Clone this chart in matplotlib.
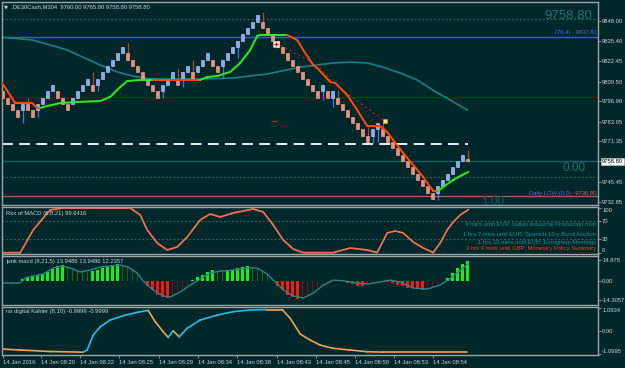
import matplotlib.pyplot as plt
from matplotlib import font_manager

# ---------------- data ----------------
# renko-like candles, one per bar index 0..93
opens = [9803.2, 9799.2, 9795.2, 9791.1, 9791.1, 9795.2, 9791.1, 9791.1, 9795.2, 9799.2,
         9803.2, 9803.2, 9799.2, 9795.2, 9795.2, 9799.2, 9803.2, 9807.3, 9807.3, 9807.3,
         9811.3, 9815.3, 9819.4, 9823.4, 9827.4, 9827.4, 9823.4, 9819.4, 9815.3, 9811.3,
         9807.3, 9803.2, 9803.2, 9807.3, 9811.3, 9811.3, 9811.3, 9815.3, 9815.3, 9815.3,
         9819.4, 9823.4, 9823.4, 9819.4, 9819.4, 9823.4, 9827.4, 9831.4, 9835.5, 9839.5,
         9843.5, 9847.6, 9847.6, 9843.5, 9839.5, 9835.5, 9831.4, 9827.4, 9823.4, 9819.4,
         9815.3, 9811.3, 9807.3, 9803.2, 9803.2, 9803.2, 9799.2, 9799.2, 9795.2, 9791.1,
         9787.1, 9783.1, 9779.1, 9775.0, 9775.0, 9779.1, 9779.1, 9775.0, 9771.0, 9767.0,
         9762.9, 9758.9, 9754.9, 9750.8, 9746.8, 9742.8, 9738.7, 9738.7, 9742.8, 9746.8,
         9750.8, 9754.9, 9758.9, 9760.0]
closes = [9799.2, 9795.2, 9791.1, 9787.1, 9795.2, 9791.1, 9787.1, 9795.2, 9799.2, 9803.2,
          9807.3, 9799.2, 9795.2, 9791.1, 9799.2, 9803.2, 9807.3, 9811.3, 9803.2, 9811.3,
          9815.3, 9819.4, 9823.4, 9827.4, 9831.4, 9823.4, 9819.4, 9815.3, 9811.3, 9807.3,
          9803.2, 9799.2, 9807.3, 9811.3, 9815.3, 9807.3, 9815.3, 9819.4, 9811.3, 9819.4,
          9823.4, 9827.4, 9819.4, 9815.3, 9823.4, 9827.4, 9831.4, 9835.5, 9839.5, 9843.5,
          9847.6, 9851.6, 9843.5, 9839.5, 9835.5, 9831.4, 9827.4, 9823.4, 9819.4, 9815.3,
          9811.3, 9807.3, 9803.2, 9799.2, 9807.3, 9799.2, 9803.2, 9795.2, 9791.1, 9787.1,
          9783.1, 9779.1, 9775.0, 9771.0, 9779.1, 9783.1, 9775.0, 9771.0, 9767.0, 9762.9,
          9758.9, 9754.9, 9750.8, 9746.8, 9742.8, 9738.7, 9734.7, 9742.8, 9746.8, 9750.8,
          9754.9, 9758.9, 9762.9, 9758.8]
wick_high = {5: 9799.2, 18: 9815.3, 25: 9834.0, 35: 9818.1, 38: 9823.2, 52: 9853.7,
             67: 9804.1, 73: 9780.6, 76: 9785.0, 93: 9765.8}
wick_low = {4: 9783.1, 7: 9787.1, 19: 9803.2, 32: 9799.2, 36: 9806.0, 44: 9811.7,
            47: 9824.5, 64: 9797.7, 66: 9793.3, 74: 9770.4, 75: 9771.0, 87: 9734.1}

# slow moving average (teal)
ma_x = [-0.5, 6, 12.9, 19.5, 22.9, 26, 29.5, 39.5, 46, 52.9, 59.5, 66, 69.5, 72.9,
        76, 79.5, 82.9, 86, 89.5, 92.9]
ma_y = [9837.8, 9835.9, 9829.6, 9820.0, 9815.6, 9813.0, 9811.1, 9811.1, 9811.7, 9814.3,
        9818.7, 9821.3, 9821.9, 9821.3, 9818.7, 9814.9, 9810.5, 9804.1, 9797.7, 9791.4]

# two-colour trend line (1 = up / green, 0 = down / orange)
trend_x = [-0.5, 2.5, 5.9, 6.9, 7.5,
           8.1, 11.5, 14.9, 19.5, 21.5, 23.5, 24.9, 27.5, 30.1,
           39.5,
           40.9, 42.9, 45.5, 47.5, 49.5, 50.9, 51.5, 56.9,
           58.9, 60.1, 62.1, 62.9, 65.5, 66.5, 68.9, 70.9, 72.9, 75.5, 76.9, 78.1, 80.1,
           82.1, 84.1, 85.5, 86.1, 87.1,
           88.1, 90.1, 91.9, 93.1]
trend_y = [9810.5, 9795.8, 9795.8, 9792.7, 9792.7,
           9793.3, 9795.8, 9796.5, 9797.1, 9799.7, 9806.0, 9809.8, 9810.5, 9810.5,
           9810.5,
           9812.4, 9813.0, 9815.6, 9821.3, 9829.6, 9838.5, 9839.1, 9839.1,
           9835.9, 9829.6, 9820.0, 9818.1, 9809.2, 9808.6, 9800.9, 9791.4, 9781.2, 9781.2,
           9777.4, 9772.3, 9764.0, 9756.4, 9748.8, 9742.4, 9739.9, 9739.9,
           9742.4, 9746.9, 9750.0, 9752.0]
trend_up = [0, 0, 0, 0, 0,
            1, 1, 1, 1, 1, 1, 1, 1, 1,
            0,
            1, 1, 1, 1, 1, 1, 1, 1,
            0, 0, 0, 0, 0, 0, 0, 0, 0, 0, 0, 0, 0, 0, 0, 0, 0, 0,
            1, 1, 1, 1]

# dotted projection line
proj_x = [54.7, 62.9, 66.1, 76.1]
proj_y = [9834.0, 9820.0, 9808.6, 9785.0]

# horizontal levels
top_dotted = 9849.3
fibo_line = 9837.81
maroon_line = 9799.6
white_dash = 9769.8
bid_line = 9758.80
zero_dotted = 9748.8
daily_low = 9736.80

price_ticks = [9848.00, 9835.40, 9822.45, 9809.50, 9796.90, 9783.95, 9771.35, 9745.45, 9732.85]

# Rsx of MACD
rsx_x = [-0.1, 3.5, 6.1, 8.1, 9.5, 12.1, 25.5, 27.5, 28.9, 30.9, 32.9, 34.9, 36.9, 39.5,
         41.5, 43.5, 46.1, 50.1, 52.1, 54.1, 56.1, 58.1, 60.1, 66.1, 69.5, 72.9, 74.9,
         76.9, 78.5, 80.1, 82.1, 84.1, 86.1, 87.5, 88.9, 90.1, 91.5, 93.1]
rsx_y = [0, 0, 50.8, 77.6, 95.5, 100, 100, 84.3, 50.8, 21.7, 6, 12.8, 35.1, 73.2,
         86.6, 79.9, 88.8, 97.8, 91.1, 62, 28.4, 8.3, 0, 0, 10.5, 6, 0.4,
         44.1, 48.5, 44.1, 23.9, 10.5, 0.4, 21.7, 50.8, 68.7, 84.3, 96]

# junk macd histogram (one bar per candle) and its signal
macd_hist = [-1.5, -1.5, -1.5, -1.0, 1.0, 2.5, 3.5, 4.0, 5.0, 6.5,
             8.5, 10.5, 11.5, 10.5, 9.0, 7.5, 6.5, 6.0, 7.0, 8.0,
             9.0, 10.0, 11.0, 12.0, 11.5, 10.0, 7.5, 4.0, 0.5, -3.5,
             -7.0, -10.0, -12.0, -12.5, -11.5, -9.0, -6.0, -3.0, 0.5, 2.5,
             4.5, 6.5, 7.5, 7.0, 6.5, 7.0, 8.0, 9.0, 10.0, 10.5,
             10.0, 9.0, 7.0, 4.5, 0.5, -3.5, -7.0, -10.0, -12.0, -13.0,
             -12.5, -11.0, -8.5, -6.0, -4.0, -2.5, -1.5, -0.8, -0.5, -1.5,
             -2.5, -3.5, -4.0, -3.0, -2.0, -1.0, -0.5, -1.0, -2.0, -3.0,
             -4.0, -5.0, -5.5, -6.0, -6.5, -6.5, -5.5, -4.0, -1.5, 2.0,
             5.5, 9.0, 12.0, 14.5]
sig_x = [-0.5, 3.5, 4.5, 6.1, 8.1, 10.1, 11.9, 13.5, 15.5, 17.5, 19.5, 21.5, 23.5, 25.1,
         26.9, 28.1, 30.1, 32.1, 33.5, 35.5, 37.5, 39.5, 41.5, 43.5, 46.1, 48.9, 50.9,
         52.9, 54.1, 56.1, 58.1, 60.1, 62.1, 64.0, 66.1, 68.1, 70.9, 72.9, 75.5, 77.5,
         79.5, 82.1, 84.9, 87.5, 89.1, 91.1, 93.1]
sig_y = [-1.7, -1.7, 2.0, 3.4, 4.9, 9.2, 10.7, 9.2, 6.3, 7.8, 9.9, 10.7, 11.4, 9.9,
         5.6, -0.2, -6.7, -11.1, -11.8, -8.2, -3.1, 1.2, 5.6, 7.0, 7.8, 9.2, 9.2,
         4.9, 0.5, -6.7, -11.1, -12.5, -9.0, -3.5, 0.5, 0.0, -1.7, -2.4, -0.9, 0.5,
         -0.9, -5.3, -6.0, -3.1, 0.5, 6.3, 12.2]

# rsi digital Kahler
rsi_x = [-0.5, 3.5, 9.5, 16.1, 16.9, 18.1, 19.5, 21.5, 24.1, 26.9, 29.1, 30.5, 32.1,
         33.1, 34.1, 35.3, 36.9, 39.5, 42.9, 46.1, 49.5, 52.9, 55.9, 57.5, 59.5, 61.5,
         63.5, 66.1, 69.5, 72.9, 76.1, 92.9]
rsi_y = [-0.85, -0.90, -0.97, -1.0, -0.90, -0.20, 0.19, 0.51, 0.71, 0.87, 0.96, 0.43,
         -0.04, -0.31, 0.0, -0.28, 0.12, 0.51, 0.74, 0.90, 0.98, 1.0, 1.0, 0.59, -0.15,
         -0.43, -0.67, -0.82, -0.90, -0.98, -1.0, -1.0]

time_idx = [0, 7.7, 15.5, 23.3, 31.2, 39.0, 46.9, 54.8, 62.6, 70.4, 78.3, 86.1]
time_labels = ["14 Jan 2016", "14 Jan 08:20", "14 Jan 08:22", "14 Jan 08:25",
               "14 Jan 08:29", "14 Jan 08:34", "14 Jan 08:38", "14 Jan 08:43",
               "14 Jan 08:45", "14 Jan 08:50", "14 Jan 08:53", "14 Jan 08:54"]

news = ["4 mins until EUR: Italian Industrial Production m/m",
        "1 hrs 7 mins until EUR: Spanish 10-y Bond Auction",
        "1 hrs 10 mins until EUR: Eurogroup Meetings",
        "3 hrs 4 mins until GBP: Monetary Policy Summary"]

# ---------------- style ----------------
W, H = 625, 368
BG = "#00282a"
FRAME = "#a0a4a4"
TXT = "#d0d4d4"
TEAL = "#1d7474"

installed = {f.name for f in font_manager.fontManager.ttflist}
if "Liberation Sans Narrow" in installed:
    SMALL, SMALL_SIZE = "Liberation Sans Narrow", 4.8
else:
    SMALL, SMALL_SIZE = "Liberation Sans", 4.2
SMALL_FAM = [SMALL, "DejaVu Sans"]
plt.rcParams["font.family"] = SMALL_FAM


def fx(px):
    return px / W


def fy(py):
    return 1 - py / H


fig = plt.figure(figsize=(W / 100, H / 100), dpi=100)
fig.patch.set_facecolor(BG)


def panel(top, bottom, ylim):
    ax = fig.add_axes([fx(2), fy(bottom), 596 / W, (bottom - top) / H])
    ax.set_facecolor(BG)
    for s in ax.spines.values():
        s.set_color(FRAME)
        s.set_linewidth(1)
    ax.set_xlim(-0.14, 119.06)
    ax.set_ylim(*ylim)
    ax.yaxis.tick_right()
    ax.tick_params(axis="y", length=2, width=0.6, color=FRAME, labelcolor=TXT,
                   labelsize=SMALL_SIZE, pad=1)
    ax.tick_params(axis="x", length=0)
    ax.set_xticklabels([])
    return ax


# ---------------- main price panel ----------------
ax = panel(2, 205, (9730.95, 9860.1))

ax.axhline(top_dotted, color=TEAL, lw=0.8, ls=(0, (1.5, 2)))
ax.axhline(fibo_line, color="#3a5ed0", lw=1)
ax.axhline(maroon_line, color="#6e0c0c", lw=0.9)
ax.axhline(bid_line, color="#1b5e60", lw=1)
ax.axhline(zero_dotted, color=TEAL, lw=0.8, ls=(0, (1.5, 2)))
ax.axhline(daily_low, color="#a86060", lw=0.9)
ax.plot([-0.14, 93], [white_dash, white_dash], color="white", lw=1.3, ls=(0, (6, 3.5)))

ax.plot(ma_x, ma_y, color="#168282", lw=1.2)

for i in range(len(opens)):
    o, c = opens[i], closes[i]
    bull = c >= o
    hi = wick_high.get(i, max(o, c))
    lo = wick_low.get(i, min(o, c))
    ax.vlines(i, lo, hi, color="#4a78d8" if bull else "#b04838", lw=0.9, zorder=3)
    ax.bar(i, abs(c - o) if abs(c - o) > 0.3 else 0.8, bottom=min(o, c), width=0.62,
           color="#8ea8ee" if bull else "#f28a78",
           edgecolor="#c6d4ff" if bull else "#ffb2a2", lw=0.4, zorder=4)

ax.plot(proj_x, proj_y, color="#a8181c", lw=0.9, ls=(0, (2, 2)), zorder=5)

for k in range(len(trend_x) - 1):
    col = "#2ee81e" if trend_up[k + 1] else "#ff4a0a"
    ax.plot(trend_x[k:k + 2], trend_y[k:k + 2], color=col, lw=1.45,
            solid_capstyle="round", zorder=6)

# trade markers
ax.plot(54.6, 9833.4, marker="s", ms=4, mfc="white", mec="#ffb0b0", mew=0.4, zorder=7)
ax.plot(54.6, 9833.4, marker="+", ms=3, mec="#e01010", mew=1, zorder=8)
ax.plot(76.5, 9784.4, marker="s", ms=3, mfc="#ffe090", mec="#e09030", mew=0.5, zorder=7)
ax.plot([53.8, 54.8], [9784.4, 9784.4], color="#d01010", lw=1, zorder=7)

ax.set_yticks(price_ticks + [bid_line])
ax.set_yticklabels([f"{p:.2f}" for p in price_ticks] + ["9758.80"])
bid_lbl = ax.get_yticklabels()[-1]
bid_lbl.set_color("black")
bid_lbl.set_bbox(dict(facecolor="white", edgecolor="#c0c0c0", pad=0.6, lw=0.5))

yb = ax.get_yaxis_transform()
ax.text(0.99, 9851.5, "9758.80", transform=yb, ha="right", va="center",
        fontsize=9.5, family="Liberation Sans", color="#1f7676")
ax.text(0.980, 9754.6, "0.00", transform=yb, ha="right", va="center",
        fontsize=8.5, family="Liberation Sans", color="#1f7070")
ax.text(0.842, 9732.6, "1.00", transform=yb, ha="right", va="center",
        fontsize=8.5, family="Liberation Sans", color="#1a5c5c", clip_on=True)
ax.text(0.998, 9840.4, "(76.4) - 9837.81", transform=yb, ha="right", va="center",
        fontsize=SMALL_SIZE, color="#4a70e6")
low_val = ax.text(0.998, 9738.2, " - 9736.80", transform=yb, ha="right", va="center",
                  fontsize=SMALL_SIZE, color="#c86a6a")
ax.annotate("Daily LOW (0.0)", xy=(0, 0.5), xycoords=low_val, ha="right", va="center",
            fontsize=SMALL_SIZE, color="#5a6ad0")

fig.text(fx(4), fy(6.5), "\u25bc", fontsize=3.8, color=TXT, va="center", family="DejaVu Sans")
fig.text(fx(11), fy(6.5), ".DE30Cash,M304  9760.00 9765.80 9758.80 9758.80",
         fontsize=SMALL_SIZE, color=TXT, va="center")

# ---------------- Rsx of MACD ----------------
ax2 = panel(207, 253.5, (-1.8, 102.2))
ax2.axhline(70, color=TEAL, lw=0.8, ls=(0, (1.5, 2)))
ax2.axhline(30, color=TEAL, lw=0.8, ls=(0, (1.5, 2)))
ax2.plot(rsx_x, rsx_y, color="#f4704c", lw=1.3)
ax2.set_yticks([100, 70, 30, 0])
ax2.set_yticklabels(["100", "70", "30", "0"])
ax2.get_yticklabels()[0].set_va("top")
ax2.get_yticklabels()[-1].set_va("bottom")
fig.text(fx(6), fy(213), "Rsx of MACD (8,8,21) 99.6416", fontsize=SMALL_SIZE,
         color=TXT, va="center")
news_y = [225, 234.3, 242.3, 248.3]
for k, line in enumerate(news):
    fig.text(fx(596), fy(news_y[k]), line, fontsize=SMALL_SIZE, ha="right", va="center",
             color="#ff3a16" if line.startswith("3 hrs") else "#1f9090")

# ---------------- junk macd ----------------
ax3 = panel(255.5, 305, (-17.6, 18.3))
for i, v in enumerate(macd_hist):
    prev = macd_hist[i - 1] if i > 0 else v
    rising = v >= prev
    if v >= 0:
        col, w = ("#14f014", 0.55) if rising else ("#0f6a10", 0.25)
    else:
        col, w = ("#7a1010", 0.25) if rising else ("#ff1414", 0.55)
    ax3.bar(i, v, width=w, color=col, lw=0)
ax3.plot(sig_x, sig_y, color="#2a8686", lw=1)
ax3.set_yticks([14.875, 0.0, -14.3057])
ax3.set_yticklabels(["14.875", "0.00", "-14.3057"])
fig.text(fx(6), fy(261), "junk macd (8,21,5) 13.9486 13.9486 12.2357", fontsize=SMALL_SIZE,
         color=TXT, va="center")

# ---------------- rsi digital Kahler ----------------
ax4 = panel(307, 354.5, (-1.11, 1.12))
for k in range(len(rsi_x) - 1):
    col = "#22bcf0" if rsi_y[k + 1] > rsi_y[k] else "#f0a452"
    ax4.plot(rsi_x[k:k + 2], rsi_y[k:k + 2], color=col, lw=1.2, solid_capstyle="round")
ax4.set_yticks([1.0934, 0.0, -1.0995])
ax4.set_yticklabels(["1.0934", "0.00", "-1.0995"])
ax4.get_yticklabels()[0].set_va("top")
ax4.get_yticklabels()[-1].set_va("bottom")
fig.text(fx(6), fy(311.5), "rsi digital Kahler (8,10) -0.9999 -0.9999", fontsize=SMALL_SIZE,
         color=TXT, va="center")

ax4.set_xticks(time_idx)
ax4.set_xticklabels(time_labels)
ax4.tick_params(axis="x", length=2.5, width=0.6, color=FRAME, labelcolor=TXT,
                labelsize=SMALL_SIZE, pad=1.5)
for lbl in ax4.get_xticklabels():
    lbl.set_ha("left")

fig.savefig("out.png", dpi=100, facecolor=BG)
